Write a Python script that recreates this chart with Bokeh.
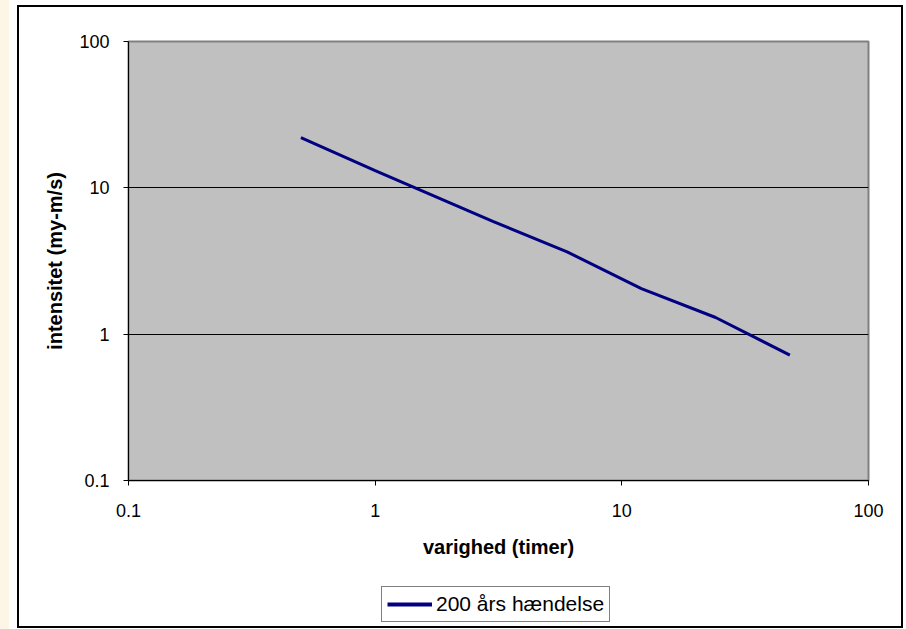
from bokeh.plotting import figure
from bokeh.layouts import row, column
from bokeh.models import FixedTicker, CustomJSTickFormatter, Legend, LegendItem, Spacer
from bokeh.embed import file_html
from bokeh.resources import INLINE

# Data
durations = [0.5, 1, 3, 6, 12, 24, 48]          # varighed (timer)
intensity = [22.0, 13.1, 5.9, 3.65, 2.05, 1.30, 0.72]  # intensitet (my-m/s)
series_name = "200 års hændelse"
tick_values = [0.1, 1, 10, 100]
x_title = "varighed (timer)"
y_title = "intensitet (my-m/s)"

FONT = "Liberation Sans"
NAVY = "#000080"
W = 882

p = figure(width=W, height=576, x_axis_type="log", y_axis_type="log",
           x_range=(0.1, 100), y_range=(0.1, 100),
           output_backend="svg", toolbar_location=None,
           min_border_left=109, min_border_right=33,
           min_border_top=34, min_border_bottom=103)

p.background_fill_color = "#C0C0C0"
p.border_fill_color = "white"
p.outline_line_color = "#808080"
p.outline_line_width = 2

fmt = CustomJSTickFormatter(code="return String(Number(tick.toPrecision(6)));")
for ax in (p.xaxis[0], p.yaxis[0]):
    ax.ticker = FixedTicker(ticks=tick_values, minor_ticks=[])
    ax.formatter = fmt
    ax.axis_line_color = "black"
    ax.axis_line_width = 1
    ax.major_tick_line_color = "black"
    ax.major_tick_out = 5
    ax.major_tick_in = 0
    ax.minor_tick_line_color = None
    ax.major_label_text_font = FONT
    ax.major_label_text_font_size = "18px"
    ax.major_label_text_color = "black"
    ax.axis_label_text_font = FONT
    ax.axis_label_text_font_size = "20px"
    ax.axis_label_text_font_style = "bold"
    ax.axis_label_text_color = "black"

p.xaxis.axis_label = x_title
p.yaxis.axis_label = y_title
p.xaxis.major_label_standoff = 18
p.yaxis.major_label_standoff = 14
p.xaxis.axis_label_standoff = 16
p.yaxis.axis_label_standoff = 10

p.xgrid.grid_line_color = None
p.ygrid.ticker = FixedTicker(ticks=tick_values, minor_ticks=[])
p.ygrid.grid_line_color = "black"
p.ygrid.grid_line_width = 1

p.line(durations, intensity, line_color=NAVY, line_width=3)

# legend panel below the chart (its frame is aligned with the chart's frame)
q = figure(width=W, height=43, x_range=(1000, 1001), y_range=(1000, 1001),
           output_backend="svg", toolbar_location=None, min_border=0,
           x_axis_location=None, y_axis_location=None)
q.grid.visible = False
q.outline_line_color = None
q.background_fill_color = "white"
q.border_fill_color = "white"
lr = q.line(durations, intensity, line_color=NAVY, line_width=4)
legend = Legend(items=[LegendItem(label=series_name, renderers=[lr])],
                location=(253, 4), orientation="horizontal",
                border_line_color="black", border_line_width=1,
                background_fill_color="white", background_fill_alpha=1,
                label_text_font=FONT, label_text_font_size="21px",
                label_text_color="black",
                glyph_width=45, glyph_height=20, label_standoff=4,
                padding=5, margin=0)
q.add_layout(legend)

chart = column(p, q, spacing=0, margin=(5, 0, 0, 8),
               styles={"border": "2px solid black", "background-color": "white"})
strip = Spacer(width=9, height=629, styles={"background-color": "#FDF5E6"})
layout = row(strip, chart, spacing=0)

open("out.html", "w").write(file_html(layout, INLINE))
